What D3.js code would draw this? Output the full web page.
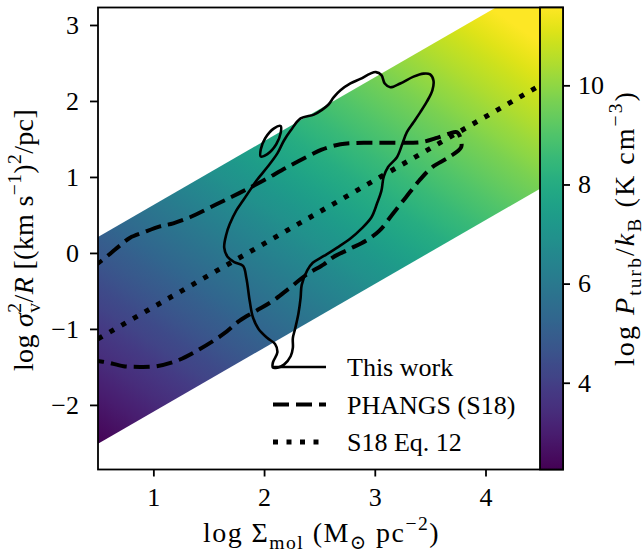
<!DOCTYPE html>
<html>
<head>
<meta charset="utf-8">
<script src="https://cdn.jsdelivr.net/npm/d3@7"></script>
<style>
  html, body { margin: 0; padding: 0; background: #fff; }
  svg { display: block; font-family: "Liberation Serif", "DejaVu Serif", serif; }
</style>
</head>
<body>
<svg id="chart" width="644" height="552"></svg>
<script>
// ---- axis ranges and ticks ----
const xDomain = [0.5, 4.7];
const yDomain = [-2.85, 3.23];
const cbDomain = [2.25, 11.57];
const xTicks = [1, 2, 3, 4];
const yTicks = [-2, -1, 0, 1, 2, 3];
const cbTicks = [4, 6, 8, 10];

// ---- allowed band: log sigma^2/R limits as a function of log Sigma ----
const bandX = [0.5, 4.7];
const bandUpper = [0.21, 3.74];
const bandLower = [-2.51, 1.02];
// log P_turb/k_B = log Sigma + log sigma^2/R + ptZero
const ptZero = 4.3;

// ---- S18 Eq. 12 relation ----
const eqX = [0.5, 4.5];
const eqY = [-1.13, 2.21];

// ---- "This work" density contour (main outline) ----
const thisWorkX = [2.08, 2.08, 2.12, 2.10, 2.03, 1.95, 1.90, 1.87, 1.84, 1.81, 1.73, 1.67, 1.64, 1.66, 1.69, 1.75,
  1.81, 1.87, 1.93, 2.03, 2.12, 2.18, 2.24, 2.33, 2.45, 2.52, 2.58, 2.63, 2.69, 2.78, 2.87, 2.96, 3.01, 3.06,
  3.09, 3.14, 3.23, 3.35, 3.44, 3.50, 3.53, 3.52, 3.47, 3.41, 3.35, 3.29, 3.25, 3.20, 3.12, 3.08, 3.06, 3.02,
  2.97, 2.88, 2.78, 2.66, 2.54, 2.44, 2.39, 2.34, 2.33, 2.31, 2.28, 2.26, 2.26, 2.24, 2.18, 2.12];
const thisWorkY = [-1.51, -1.44, -1.31, -1.20, -1.12, -1.00, -0.85, -0.63, -0.33, -0.17, -0.12, -0.05, 0.07, 0.25, 0.38, 0.56,
  0.69, 0.82, 0.95, 1.13, 1.31, 1.48, 1.61, 1.77, 1.82, 1.88, 1.95, 2.05, 2.14, 2.23, 2.29, 2.36, 2.38, 2.34,
  2.23, 2.18, 2.23, 2.32, 2.36, 2.35, 2.27, 2.14, 1.99, 1.85, 1.72, 1.59, 1.44, 1.26, 1.13, 1.00, 0.82, 0.65,
  0.47, 0.32, 0.19, 0.07, -0.04, -0.13, -0.23, -0.42, -0.59, -0.80, -1.00, -1.12, -1.25, -1.36, -1.47, -1.51];

// ---- "This work" density contour (small island) ----
const islandX = [2.15, 2.15, 2.11, 2.03, 1.97, 1.97, 2.01, 2.09];
const islandY = [1.67, 1.58, 1.43, 1.30, 1.27, 1.36, 1.51, 1.64];

// ---- PHANGS (S18) contour ----
const phangsX = [0.42, 0.49, 0.61, 0.70, 0.79, 0.91, 1.06, 1.18, 1.33, 1.57, 1.78, 1.99, 2.21, 2.42, 2.52, 2.69,
  2.90, 3.11, 3.32, 3.43, 3.55, 3.67, 3.74, 3.77, 3.78,
  3.67, 3.52, 3.40, 3.28, 3.16, 3.04, 2.92, 2.77, 2.62, 2.54, 2.39, 2.24, 2.08, 1.93, 1.78, 1.63, 1.39,
  1.21, 1.03, 0.88, 0.73, 0.58, 0.49, 0.42];
const phangsY = [-0.22, -0.15, -0.01, 0.10, 0.20, 0.27, 0.35, 0.39, 0.47, 0.64, 0.79, 0.95, 1.13, 1.29, 1.36, 1.43,
  1.45, 1.45, 1.45, 1.46, 1.51, 1.57, 1.59, 1.53, 1.39,
  1.26, 1.13, 0.95, 0.73, 0.51, 0.29, 0.16, 0.05, -0.06, -0.15, -0.28, -0.45, -0.63, -0.76, -0.89, -1.07, -1.29,
  -1.42, -1.49, -1.50, -1.49, -1.44, -1.42, -1.40];

const legendLabels = ["This work", "PHANGS (S18)", "S18 Eq. 12"];

// ---- layout ----
const plot = { left: 98, right: 563, top: 7.5, bottom: 469.5 };
const cbar = { left: 540, right: 563 };
const FS = 26;       // tick and legend text
const LFS = 28;      // axis titles

const svg = d3.select("#chart");
const defs = svg.append("defs");

const x = d3.scaleLinear().domain(xDomain).range([plot.left, plot.right]);
const y = d3.scaleLinear().domain(yDomain).range([plot.bottom, plot.top]);
const cb = d3.scaleLinear().domain(cbDomain).range([plot.bottom, plot.top]);
const color = d3.scaleSequential(d3.interpolateViridis).domain(cbDomain);

defs.append("clipPath").attr("id", "plotClip")
  .append("rect")
  .attr("x", plot.left).attr("y", plot.top)
  .attr("width", plot.right - plot.left).attr("height", plot.bottom - plot.top);

// ---- band gradient: colour follows log P = ptZero + x + y ----
{
  const gx = 1 / (x(1) - x(0));
  const gy = 1 / (y(1) - y(0));
  const g2 = gx * gx + gy * gy;
  const px0 = x(xDomain[0]), py0 = y(0);
  const v0 = ptZero + xDomain[0];
  const t1 = (cbDomain[0] - v0) / g2, t2 = (cbDomain[1] - v0) / g2;
  const grad = defs.append("linearGradient").attr("id", "bandGrad")
    .attr("gradientUnits", "userSpaceOnUse")
    .attr("x1", px0 + gx * t1).attr("y1", py0 + gy * t1)
    .attr("x2", px0 + gx * t2).attr("y2", py0 + gy * t2);
  const cgrad = defs.append("linearGradient").attr("id", "cbGrad")
    .attr("x1", 0).attr("y1", 1).attr("x2", 0).attr("y2", 0);
  d3.range(0, 41).forEach(i => {
    const f = i / 40;
    const c = color(cbDomain[0] + f * (cbDomain[1] - cbDomain[0]));
    grad.append("stop").attr("offset", f).attr("stop-color", c);
    cgrad.append("stop").attr("offset", f).attr("stop-color", c);
  });
}

const plotG = svg.append("g").attr("clip-path", "url(#plotClip)");

// band
const bandData = bandX.map((d, i) => ({ x: d, lo: bandLower[i], hi: bandUpper[i] }));
plotG.append("path")
  .datum(bandData)
  .attr("d", d3.area().x(d => x(d.x)).y0(d => y(d.lo)).y1(d => y(d.hi)))
  .attr("fill", "url(#bandGrad)");

// S18 Eq. 12 dotted line
const eqData = eqX.map((d, i) => [d, eqY[i]]);
plotG.append("path")
  .datum(eqData)
  .attr("d", d3.line().x(d => x(d[0])).y(d => y(d[1])))
  .attr("fill", "none").attr("stroke", "#000")
  .attr("stroke-width", 5).attr("stroke-dasharray", "5 8.5");

// PHANGS dashed contour
const phangsData = phangsX.map((d, i) => [d, phangsY[i]]);
plotG.append("path")
  .datum(phangsData)
  .attr("d", d3.line().x(d => x(d[0])).y(d => y(d[1])).curve(d3.curveCatmullRom.alpha(0.5)))
  .attr("fill", "none").attr("stroke", "#000")
  .attr("stroke-width", 4).attr("stroke-dasharray", "16 7")
  .attr("stroke-linejoin", "round");

// This work contours
const closedGen = d3.line().x(d => x(d[0])).y(d => y(d[1])).curve(d3.curveCatmullRomClosed.alpha(0.5));
[[thisWorkX, thisWorkY], [islandX, islandY]].forEach(([xs, ys]) => {
  plotG.append("path")
    .datum(xs.map((d, i) => [d, ys[i]]))
    .attr("d", closedGen)
    .attr("fill", "none").attr("stroke", "#000")
    .attr("stroke-width", 2.6).attr("stroke-linejoin", "round");
});

// ---- axes frame ----
svg.append("rect")
  .attr("x", plot.left).attr("y", plot.top)
  .attr("width", plot.right - plot.left).attr("height", plot.bottom - plot.top)
  .attr("fill", "none").attr("stroke", "#000").attr("stroke-width", 1.8);

const fmt = d3.format("d");
function styleAxis(g) {
  g.select(".domain").remove();
  g.selectAll(".tick line").attr("stroke", "#000").attr("stroke-width", 1.8);
  g.selectAll(".tick text").attr("fill", "#000")
    .attr("font-size", FS).attr("font-family", "Liberation Serif, DejaVu Serif, serif");
}

svg.append("g")
  .attr("transform", `translate(0,${plot.bottom})`)
  .call(d3.axisBottom(x).tickValues(xTicks).tickFormat(fmt).tickSize(7).tickPadding(11))
  .call(styleAxis);

svg.append("g")
  .attr("transform", `translate(${plot.left},0)`)
  .call(d3.axisLeft(y).tickValues(yTicks).tickFormat(fmt).tickSize(8).tickPadding(11))
  .call(styleAxis);

// ---- colorbar ----
svg.append("rect")
  .attr("x", cbar.left).attr("y", plot.top)
  .attr("width", cbar.right - cbar.left).attr("height", plot.bottom - plot.top)
  .attr("fill", "url(#cbGrad)")
  .attr("stroke", "#000").attr("stroke-width", 1.8);

svg.append("g")
  .attr("transform", `translate(${cbar.right},0)`)
  .call(d3.axisRight(cb).tickValues(cbTicks).tickFormat(fmt).tickSize(7).tickPadding(8))
  .call(styleAxis);

// ---- titles with sub/superscripts ----
function richText(sel, parts, size) {
  let shift = 0;
  parts.forEach(p => {
    const ts = sel.append("tspan").text(p.t);
    const target = p.s === "sup" ? -0.42 * size : p.s === "sub" ? 0.24 * size : 0;
    if (target - shift !== 0) ts.attr("dy", target - shift);
    shift = target;
    if (p.s) ts.attr("font-size", size * 0.7);
    if (p.it) ts.attr("font-style", "italic");
    if (p.dx) ts.attr("dx", p.dx);
  });
}
// widen a title to a given run length by spreading its letters
function fitSpan(sel, span) {
  const w = sel.node().getComputedTextLength();
  const n = sel.text().length;
  if (w < span && n > 1) sel.attr("letter-spacing", ((span - w) / n).toFixed(2));
}

const xLabel = svg.append("text")
  .attr("x", 321.5).attr("y", 542)
  .attr("text-anchor", "middle").attr("font-size", LFS).attr("fill", "#000");
richText(xLabel, [
  { t: "log Σ" }, { t: "mol", s: "sub" }, { t: " (M" }, { t: "⊙", s: "sub" },
  { t: " pc" }, { t: "−2", s: "sup" }, { t: ")" }
], LFS);
fitSpan(xLabel, 237);

const yLabel = svg.append("text")
  .attr("transform", "translate(33,240) rotate(-90)")
  .attr("text-anchor", "middle").attr("font-size", LFS).attr("fill", "#000");
richText(yLabel, [
  { t: "log " }, { t: "σ", it: true }, { t: "2", s: "sup" }, { t: "v", s: "sub", dx: -10 },
  { t: "/" }, { t: "R", it: true }, { t: " [(km s" }, { t: "−1", s: "sup" }, { t: ")" },
  { t: "2", s: "sup" }, { t: "/pc]" }
], LFS);
fitSpan(yLabel, 272);

const cbLabel = svg.append("text")
  .attr("transform", "translate(634,228) rotate(-90)")
  .attr("text-anchor", "middle").attr("font-size", LFS).attr("fill", "#000");
richText(cbLabel, [
  { t: "log " }, { t: "P", it: true }, { t: "turb", s: "sub" }, { t: "/" },
  { t: "k", it: true }, { t: "B", s: "sub" }, { t: " (K cm" }, { t: "−3", s: "sup" }, { t: ")" }
], LFS);
fitSpan(cbLabel, 276);

// ---- legend ----
const legendRows = [367, 404.5, 442];
const legendStyles = [
  { w: 2.6, dash: null },
  { w: 4, dash: "16 7" },
  { w: 5, dash: "5 8.5" }
];
const legend = svg.append("g");
legendLabels.forEach((lab, i) => {
  const ly = legendRows[i];
  legend.append("line")
    .attr("x1", 273).attr("x2", 326).attr("y1", ly).attr("y2", ly)
    .attr("stroke", "#000").attr("stroke-width", legendStyles[i].w)
    .attr("stroke-dasharray", legendStyles[i].dash);
  legend.append("text")
    .attr("x", 347).attr("y", ly).attr("dy", "0.35em")
    .attr("font-size", FS).attr("fill", "#000")
    .text(lab);
});
</script>
</body>
</html>
